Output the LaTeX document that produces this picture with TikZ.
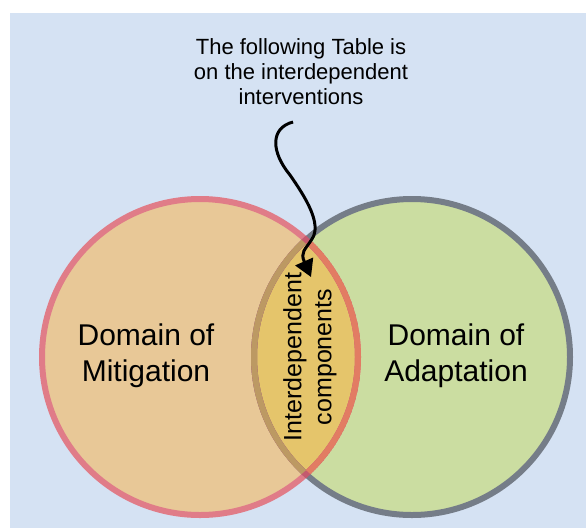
\documentclass[tikz,border=0pt]{standalone}
\usepackage{fontspec}
\setmainfont{Liberation Sans}
\usepackage{xcolor}
\usepackage{tikz}
\usetikzlibrary{positioning,arrows.meta,calc}

\definecolor{bgblue}{HTML}{D5E2F3}
\definecolor{mitfill}{HTML}{E8C897}
\definecolor{adafill}{HTML}{CBDDA1}
\definecolor{lensfill}{HTML}{E5C56B}
\definecolor{mitline}{HTML}{E07C88}
\definecolor{adaline}{HTML}{757D88}
\definecolor{tanline}{HTML}{BC9963}
\definecolor{salmonline}{HTML}{E27C63}
\definecolor{crossline}{HTML}{C45A6E}

\begin{document}
\begin{tikzpicture}[
  x=1pt, y=-1pt,
  fieldtext/.style={align=center, inner sep=0pt,
    font=\fontsize{30}{36}\selectfont},
  notetext/.style={align=center, inner sep=0pt,
    font=\fontsize{22}{25}\selectfont},
  sharedtext/.style={align=center, inner sep=0pt, rotate=90,
    font=\fontsize{25}{30}\selectfont},
  ring/.style={line width=6pt},
  arr/.style={-{Triangle[length=17pt,width=19pt]}, line width=3pt, black}
]
\useasboundingbox (0,0) rectangle (586,528);
\fill[bgblue] (10,13) rectangle (586,528);

\coordinate (mit) at (200,357);
\coordinate (ada) at (412,357);

% circles and overlap
\fill[mitfill] (mit) circle (158);
\fill[adafill] (ada) circle (158);
\begin{scope}
  \clip (mit) circle (158);
  \fill[lensfill] (ada) circle (158);
\end{scope}
\draw[ring, mitline] (mit) circle (158);
\draw[ring, adaline] (ada) circle (158);
\begin{scope}
  \clip (mit) circle (161);
  \clip (ada) circle (161);
  \draw[ring, crossline] (mit) circle (158);
  \draw[ring, crossline] (ada) circle (158);
\end{scope}
\begin{scope}
  \clip (mit) circle (155);
  \draw[ring, tanline] (ada) circle (158);
\end{scope}
\begin{scope}
  \clip (ada) circle (155);
  \draw[ring, salmonline] (mit) circle (158);
\end{scope}

\node[fieldtext] (mitlabel) at (146,356) {Domain of\\Mitigation};
\node[fieldtext] (adalabel) at (456,356) {Domain of\\Adaptation};
\node[sharedtext] (lens) at (310,357) {Interdependent\\components};
\node[notetext] (tablenote) at (301,72) {The following Table is\\on the interdependent\\interventions};

% pointer from the note into the overlap
\coordinate (hook) at (293,122);
\coordinate (tip) at (311,277);
\draw[arr] (hook) .. controls (270,128) and (271,152) .. (290,175)
  .. controls (306,198) and (322,224) .. (312,239)
  .. controls (305,250) and (300,252) .. (tip);
\end{tikzpicture}
\end{document}
